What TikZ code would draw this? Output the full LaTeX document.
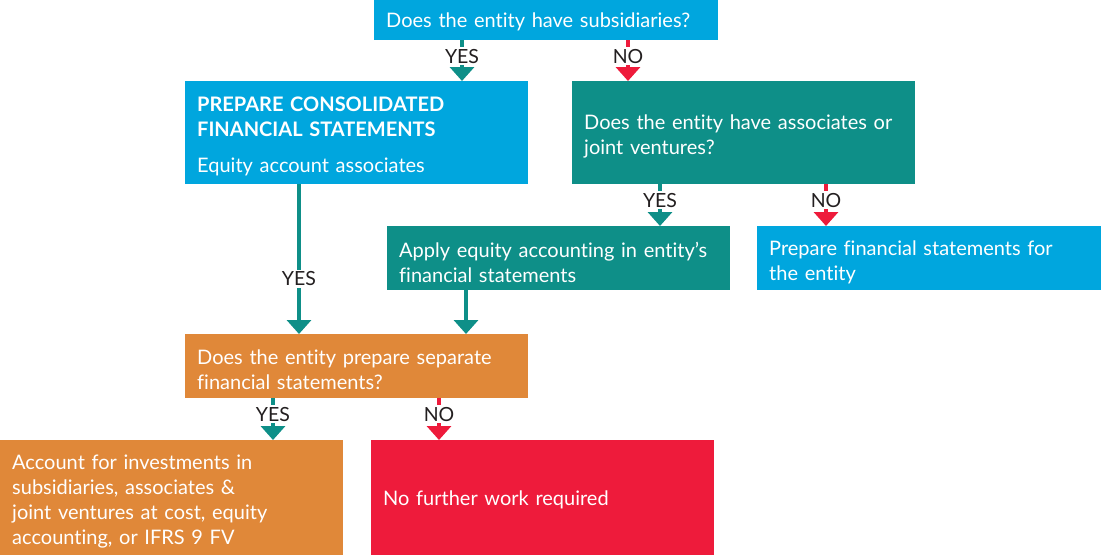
\documentclass[tikz,border=0pt]{standalone}
\usepackage{fontspec}
\setmainfont{Lato}[Ligatures=NoCommon]
\usepackage{xcolor}
\usepackage{tikz}
\usetikzlibrary{calc,arrows.meta}
\definecolor{boxblue}{HTML}{00A6DE}
\definecolor{boxteal}{HTML}{0E8F88}
\definecolor{boxorange}{HTML}{E08839}
\definecolor{boxred}{HTML}{EE1B3B}
\definecolor{labtext}{HTML}{231F20}
\tikzset{
  box/.style={anchor=north west, inner xsep=12pt, inner ysep=0pt, align=left, text=white,
    text width=319pt, minimum width=343pt, font=\fontsize{20}{25}\selectfont,
    execute at end node={\vspace*{-8pt}}},
  blue/.style={box, fill=boxblue},
  green/.style={box, fill=boxteal},
  amber/.style={box, fill=boxorange},
  crimson/.style={box, fill=boxred},
  yesline/.style={draw=boxteal, line width=4.5pt, -{Triangle[width=24pt,length=14pt]}},
  noline/.style={draw=boxred, line width=4.5pt, -{Triangle[width=24pt,length=14pt]}},
  lab/.style={fill=white, text=labtext, inner xsep=1pt, inner ysep=2pt, font=\fontsize{19.5}{20}\selectfont},
}
\begin{document}
\begin{tikzpicture}[x=1pt, y=-1pt]
  \useasboundingbox (0,0) rectangle (1101,555);
  \node[blue, minimum height=40pt, text width=320pt, minimum width=344pt] (subs) at (374,0) {Does the entity have subsidiaries?};
  \node[blue, minimum height=103pt] (cons) at (185,81) {{\bfseries PREPARE CONSOLIDATED}\\{\bfseries FINANCIAL STATEMENTS}\\[11pt]Equity account associates};
  \node[green, minimum height=103pt] (assoc) at (572,81) {Does the entity have associates or\\joint ventures?};
  \node[green, minimum height=64pt] (apply) at (387,226) {Apply equity accounting in entity's\\financial statements};
  \node[blue, minimum height=64pt, text width=320pt, minimum width=344pt] (prep) at (757,226) {Prepare financial statements for\\the entity};
  \node[amber, minimum height=64pt] (sep) at (185,334) {Does the entity prepare separate\\financial statements?};
  \node[amber, minimum height=115pt] (acct) at (0,440) {Account for investments in\\subsidiaries, associates \&\\joint ventures at cost, equity\\accounting, or IFRS 9 FV};
  \node[crimson, minimum height=115pt] (nowork) at (371,440) {No further work required};
  \coordinate (xa) at (462,0); \coordinate (xb) at (628,0);
  \coordinate (xc) at (660,0); \coordinate (xd) at (826,0);
  \coordinate (xe) at (299,0); \coordinate (xf) at (466,0);
  \coordinate (xg) at (273,0); \coordinate (xh) at (439,0);
  \draw[yesline] (subs.south -| xa) -- node[lab, pos=0.39] {YES} (cons.north -| xa);
  \draw[noline] (subs.south -| xb) -- node[lab, pos=0.39] {NO} (assoc.north -| xb);
  \draw[yesline] (assoc.south -| xc) -- node[lab, pos=0.38] {YES} (apply.north -| xc);
  \draw[noline] (assoc.south -| xd) -- node[lab, pos=0.38] {NO} (prep.north -| xd);
  \draw[yesline] (cons.south -| xe) -- node[lab, pos=0.63] {YES} (sep.north -| xe);
  \draw[yesline] (apply.south -| xf) -- (sep.north -| xf);
  \draw[yesline] (sep.south -| xg) -- node[lab, pos=0.38] {YES} (acct.north -| xg);
  \draw[noline] (sep.south -| xh) -- node[lab, pos=0.38] {NO} (nowork.north -| xh);
\end{tikzpicture}
\end{document}
